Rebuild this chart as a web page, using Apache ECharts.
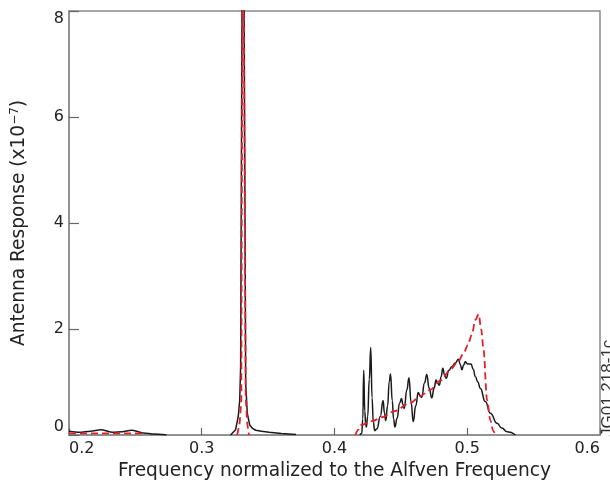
<!DOCTYPE html>
<html>
<head>
<meta charset="utf-8">
<script src="https://cdn.jsdelivr.net/npm/echarts@6/dist/echarts.min.js"></script>
<style>
html,body{margin:0;padding:0;background:#fff;}
#chart{width:610px;height:486px;}
</style>
</head>
<body>
<div id="chart"></div>
<script>
// Axis ticks
const xTicks = [0.2, 0.3, 0.4, 0.5, 0.6];
const yTicks = [0, 2, 4, 6, 8];

// Black (solid) curve, three pieces
const blackLowX = [0.200, 0.208, 0.216, 0.224, 0.233, 0.240, 0.247, 0.256, 0.264, 0.271, 0.2735];
const blackLowY = [0.07, 0.05, 0.07, 0.10, 0.05, 0.06, 0.09, 0.04, 0.02, 0.01, 0.0];

const blackPeakX = [0.3217, 0.3255, 0.3275, 0.3286, 0.3293, 0.3306, 0.3311, 0.3316, 0.3331, 0.3343, 0.3361, 0.3385, 0.3407, 0.3450, 0.3508, 0.3600, 0.3710];
const blackPeakY = [0.0, 0.10, 0.35, 0.66, 1.3, 10, 40, 10, 0.98, 0.41, 0.19, 0.12, 0.09, 0.07, 0.05, 0.03, 0.01];

const blackBandX = [0.4190, 0.4205, 0.4213, 0.4220, 0.4228, 0.4235, 0.4240, 0.4250, 0.4262, 0.4273, 0.4283, 0.4292, 0.4303, 0.4320, 0.4345, 0.4366, 0.4376, 0.4386, 0.4400, 0.4412, 0.4422, 0.4435, 0.4445, 0.4455, 0.4472, 0.4490, 0.4505, 0.4515, 0.4525, 0.4545, 0.4561, 0.4577, 0.4593, 0.4612, 0.4631, 0.4645, 0.4657, 0.4678, 0.4695, 0.4713, 0.4733, 0.4750, 0.4765, 0.4778, 0.4790, 0.4803, 0.4816, 0.4829, 0.4841, 0.4862, 0.4884, 0.4910, 0.4934, 0.4947, 0.4960, 0.4973, 0.4985, 0.5002, 0.5028, 0.5045, 0.5061, 0.5080, 0.5098, 0.5136, 0.5174, 0.5225, 0.5260, 0.5301, 0.5364];
const blackBandY = [0.00, 0.03, 0.30, 1.22, 0.45, 0.20, 0.15, 0.35, 1.05, 1.65, 0.70, 0.25, 0.08, 0.12, 0.35, 0.65, 0.42, 0.27, 0.55, 1.00, 1.15, 0.65, 0.30, 0.15, 0.32, 0.60, 0.69, 0.58, 0.50, 0.85, 1.08, 0.62, 0.25, 0.55, 0.80, 0.74, 0.71, 0.98, 1.14, 0.88, 0.70, 0.88, 1.04, 0.97, 0.94, 1.10, 1.26, 1.13, 1.07, 1.22, 1.29, 1.36, 1.43, 1.33, 1.23, 1.32, 1.38, 1.34, 1.34, 1.24, 1.10, 1.00, 0.88, 0.63, 0.41, 0.22, 0.13, 0.06, 0.00];

// Red (dashed) curve, three pieces
const redLowX = [0.200, 0.215, 0.230, 0.245, 0.258];
const redLowY = [0.03, 0.03, 0.03, 0.03, 0.03];

const redPeakX = [0.3267, 0.3286, 0.3298, 0.3306, 0.3311, 0.3316, 0.3331, 0.3343, 0.3356];
const redPeakY = [0.0, 0.24, 0.66, 8.5, 60, 8.5, 0.72, 0.21, 0.0];

const redBandX = [0.4157, 0.4180, 0.4202, 0.4280, 0.4366, 0.4450, 0.4568, 0.4650, 0.4720, 0.4800, 0.4871, 0.4930, 0.4972, 0.5005, 0.5035, 0.5061, 0.5086, 0.5105, 0.5123, 0.5149, 0.5174, 0.5195, 0.5212];
const redBandY = [0.00, 0.10, 0.19, 0.26, 0.34, 0.45, 0.60, 0.74, 0.85, 1.03, 1.23, 1.38, 1.54, 1.70, 1.90, 2.17, 2.28, 2.00, 1.60, 0.66, 0.28, 0.08, 0.00];

const zip = (xs, ys) => xs.map((x, i) => [x, ys[i]]);

const FONT = '"DejaVu Sans", Verdana, sans-serif';
const blackStyle = {color: '#1a1a1a', width: 1.5};
const redStyle = {color: '#e3202a', width: 1.8, type: [7, 4]};

function mk(xs, ys, style, z, smooth) {
  return {
    type: 'line', data: zip(xs, ys), showSymbol: false, symbol: 'none',
    lineStyle: style, z: z, smooth: smooth, smoothMonotone: 'x', clip: true, animation: false
  };
}

const chart = echarts.init(document.getElementById('chart'), null, {renderer: 'canvas'});
chart.setOption({
  animation: false,
  backgroundColor: '#fff',
  grid: {left: 69, right: 10, top: 11, bottom: 51, show: true, borderColor: '#8a8a8a', borderWidth: 1.5},
  xAxis: {
    type: 'value', min: xTicks[0], max: xTicks[xTicks.length - 1], interval: 0.1,
    axisLine: {show: true, onZero: false, lineStyle: {color: '#8a8a8a', width: 1.5}},
    axisTick: {show: true, inside: true, length: 7, lineStyle: {color: '#666', width: 1.2}},
    splitLine: {show: false},
    axisLabel: {fontFamily: FONT, fontSize: 16, color: '#222', margin: 6, alignMinLabel: 'left', alignMaxLabel: 'right',
      formatter: v => v.toFixed(1)},
    name: 'Frequency normalized to the Alfven Frequency',
    nameLocation: 'middle', nameGap: 19,
    nameTextStyle: {fontFamily: FONT, fontSize: 18.6, color: '#222'}
  },
  yAxis: {
    type: 'value', min: yTicks[0], max: yTicks[yTicks.length - 1], interval: 2,
    axisLine: {show: true, lineStyle: {color: '#8a8a8a', width: 1.5}},
    axisTick: {show: true, inside: true, length: 10, lineStyle: {color: '#666', width: 1.2}},
    splitLine: {show: false},
    axisLabel: {fontFamily: FONT, fontSize: 16, color: '#222', margin: 5,
      verticalAlignMinLabel: 'bottom', verticalAlignMaxLabel: 'top'},
    name: 'Antenna Response (x10{sup|−7})',
    nameLocation: 'middle', nameGap: 40,
    nameTextStyle: {fontFamily: FONT, fontSize: 18.6, color: '#222',
      rich: {sup: {fontFamily: FONT, fontSize: 12, color: '#222', verticalAlign: 'top', padding: [0, 0, 8, 0]}}}
  },
  graphic: [{
    type: 'text', x: 600, y: 437, rotation: Math.PI / 2, z: 10,
    style: {text: 'JG01.218-1c', x: 0, y: 0, align: 'left', verticalAlign: 'top', fontFamily: '"Liberation Sans", Arial, sans-serif', fontSize: 17, fill: '#333'}
  }],
  series: [
    mk(blackLowX, blackLowY, blackStyle, 2, 0.3),
    mk(blackPeakX, blackPeakY, blackStyle, 2, false),
    mk(blackBandX, blackBandY, blackStyle, 2, 0.5),
    mk(redLowX, redLowY, redStyle, 3, false),
    mk(redPeakX, redPeakY, redStyle, 3, false),
    mk(redBandX, redBandY, redStyle, 3, 0.3)
  ]
});
</script>
</body>
</html>
